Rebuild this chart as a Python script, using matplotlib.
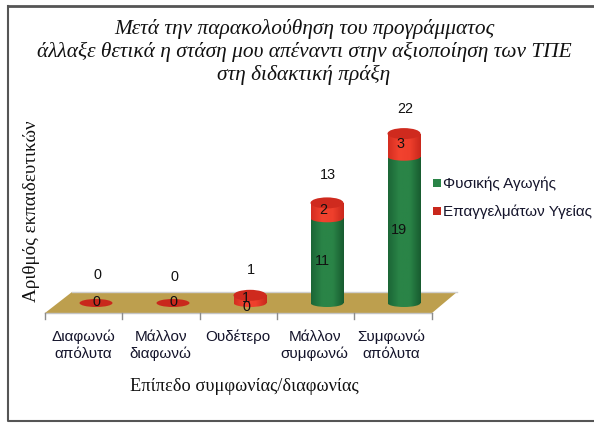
import numpy as np
import matplotlib
matplotlib.use('Agg')
import matplotlib.pyplot as plt
from matplotlib.patches import Ellipse, Polygon, Rectangle
from matplotlib.colors import LinearSegmentedColormap

categories = ['Διαφωνώ\nαπόλυτα', 'Μάλλον\nδιαφωνώ', 'Ουδέτερο', 'Μάλλον\nσυμφωνώ', 'Συμφωνώ\nαπόλυτα']
fysikis = [0, 0, 0, 11, 19]
ygeias = [0, 0, 1, 2, 3]
totals = [0, 0, 1, 13, 22]

W, H = 594, 423
X0, DX = 96, 77      # pixel of first category, pixels per category
Y0, DY = 303, 7.7    # pixel of the zero line, pixels per teacher

green_map = LinearSegmentedColormap.from_list('g', ['#1b6636', '#2a8447', '#2a8447', '#185c30'])
red_map = LinearSegmentedColormap.from_list('r', ['#d42d20', '#f2432f', '#ee3f2c', '#c9281c'])

fig = plt.figure(figsize=(W / 100, H / 100), dpi=100)
ax = fig.add_axes([0, 0, 1, 1])
ax.axis('off')


def px(x, y):
    return (x - X0) / DX, (Y0 - y) / DY


def shade(patch, i, cmap, z):
    # fill a patch with the left-to-right cylinder shading
    patch.set(fc='none', ec='none')
    ax.add_patch(patch)
    grad = np.linspace(0, 1, 64).reshape(1, -1)
    im = ax.imshow(grad, extent=(i - bw / 2, i + bw / 2, -2, 26), cmap=cmap, aspect='auto', zorder=z)
    im.set_clip_path(patch)


# frame
fig.add_artist(plt.Line2D([8 / W, 8 / W, 594 / W], [1 - 6 / H, 1 - 421 / H, 1 - 421 / H], color='#555555', lw=1.5))
fig.add_artist(plt.Line2D([8 / W, 594 / W], [1 - 6 / H, 1 - 6 / H], color='#555555', lw=2))

# floor
ax.add_patch(Polygon([px(45, 313), px(72, 292), px(457, 292), px(432, 313)], closed=True,
                     fc='#bd9f4e', ec='none', zorder=1))
ax.plot(*zip(px(72, 292), px(457, 292)), color='#cfcfcf', lw=1, zorder=1)
ax.plot(*zip(px(45, 313), px(432, 313)), color='#c4c4c4', lw=1, zorder=1)

# ticks under the floor
for i in range(6):
    tx = px(45 + i * DX, 0)[0] + (0.3 * i / DX if i else 0)
    ax.plot([tx, tx], [px(0, 313)[1], px(0, 319)[1]], color='#8c8c8c', lw=1, zorder=1)

bw = 33 / DX
top_h = 11 / DY
low_h = 8 / DY

for i in range(len(categories)):
    g, r = fysikis[i], ygeias[i]
    if g + r == 0:
        ax.add_patch(Ellipse((i, 0), bw, low_h, fc='#c9281c', ec='none', zorder=2))
        continue
    start = 0
    for val, cmap, z in ((g, green_map, 3), (r, red_map, 3.5)):
        if val == 0:
            continue
        shade(Ellipse((i, start), bw, low_h), i, cmap, z)
        body = ax.bar(i, val, bw, bottom=start, color='none', zorder=z)[0]
        shade(body, i, cmap, z)
        start += val
    ax.add_patch(Ellipse((i, g + r), bw, top_h, fc='#cf2a1e', ec='none', zorder=4))

ax.set_xlim(-X0 / DX, (W - X0) / DX)
ax.set_ylim((Y0 - H) / DY, Y0 / DY)

# data labels
sans = 'Liberation Sans'
fs = 10.4
total_y = [275, 277, 270, 175, 109]
for i in range(len(categories)):
    ax.text(i + 1 / DX, px(0, total_y[i])[1], str(totals[i]), ha='center', va='center',
            fontsize=fs, family=sans, color='#111111', zorder=6)
    g, r = fysikis[i], ygeias[i]
    if g:
        ax.text(i - 5 / DX, g / 2, str(g), ha='center', va='center', fontsize=fs,
                family=sans, color='#111111', zorder=6)
    elif i == 2:
        ax.text(i - 4 / DX, px(0, 307)[1], '0', ha='center', va='center', fontsize=fs,
                family=sans, color='#111111', zorder=6)
    if r:
        ax.text(i - 4 / DX, g + r / 2 + 0.1, str(r), ha='center', va='center', fontsize=fs,
                family=sans, color='#111111', zorder=6)
    else:
        ax.text(i, 0.1, str(r), ha='center', va='center', fontsize=fs,
                family=sans, color='#111111', zorder=6)
    # category labels
    ax.text(i - 0.16, px(0, 330)[1], categories[i], ha='center', va='top', fontsize=11,
            family=sans, color='#14142b', linespacing=1.2, zorder=6)

# legend
for lab, col, ly in (('Φυσικής Αγωγής', '#2a8447', 183), ('Επαγγελμάτων Υγείας', '#c9281c', 211)):
    ax.add_patch(Rectangle(px(433, ly + 4), 8 / DX, 8 / DY, fc=col, ec='none', zorder=6))
    ax.text(*px(443, ly + 1), lab, ha='left', va='center', fontsize=11, family=sans,
            color='#14142b', zorder=6)

# title and axis titles
serif = 'Liberation Serif'
ax.text(*px(304, 52), 'Μετά την παρακολούθηση του προγράμματος\n'
        'άλλαξε θετικά η στάση μου απέναντι στην αξιοποίηση των ΤΠΕ\n'
        'στη διδακτική πράξη', ha='center', va='center', fontsize=15.4, style='italic',
        family=serif, color='#111111', linespacing=1.2)
ax.text(*px(32, 211), 'Αριθμός εκπαιδευτικών', rotation=90, ha='center', va='center', fontsize=13.8,
        family=serif, color='#111111')
ax.text(*px(244, 386), 'Επίπεδο συμφωνίας/διαφωνίας', ha='center', va='center', fontsize=13.2,
        family=serif, color='#111111')

fig.savefig('out.png', dpi=100)
